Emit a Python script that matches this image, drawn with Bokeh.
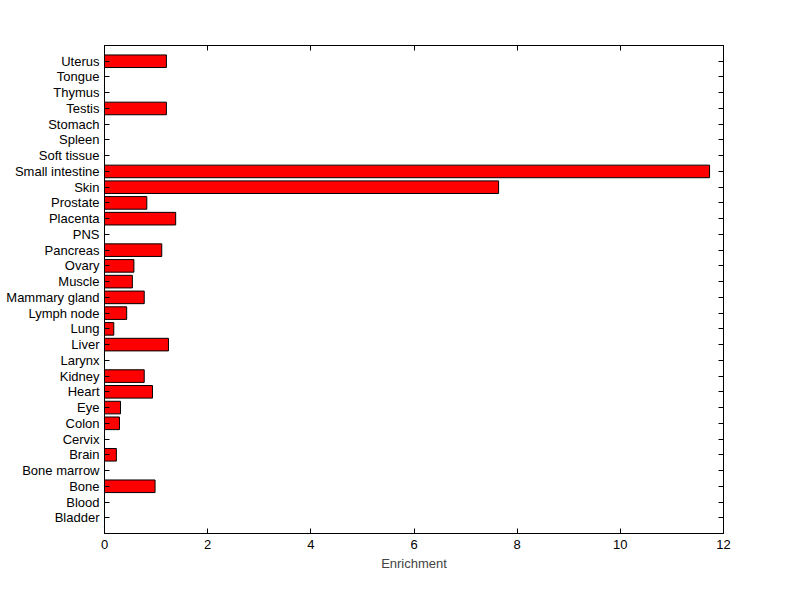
from bokeh.plotting import figure
from bokeh.models import Range1d, FixedTicker, LinearAxis
from bokeh.embed import file_html
from bokeh.resources import INLINE

categories = ["Bladder", "Blood", "Bone", "Bone marrow", "Brain", "Cervix", "Colon", "Eye",
              "Heart", "Kidney", "Larynx", "Liver", "Lung", "Lymph node", "Mammary gland",
              "Muscle", "Ovary", "Pancreas", "PNS", "Placenta", "Prostate", "Skin",
              "Small intestine", "Soft tissue", "Spleen", "Stomach", "Testis", "Thymus",
              "Tongue", "Uterus"]
enrichment = [0, 0, 0.98, 0, 0.23, 0, 0.29, 0.31,
              0.93, 0.77, 0, 1.24, 0.18, 0.43, 0.77,
              0.54, 0.57, 1.11, 0, 1.38, 0.82, 7.64,
              11.73, 0, 0, 0, 1.20, 0, 0, 1.20]
x_ticks = [0, 2, 4, 6, 8, 10, 12]

positions = list(range(1, len(categories) + 1))

FONT = "Liberation Sans"

p = figure(width=799, height=597, output_backend="svg", toolbar_location=None,
           x_range=Range1d(0, 12), y_range=Range1d(0, len(categories) + 1),
           frame_width=619, frame_height=488,
           min_border_left=104, min_border_top=45, min_border_right=76, min_border_bottom=64)
p.background_fill_color = "white"
p.border_fill_color = "white"
p.outline_line_color = "black"
p.outline_line_width = 1
p.xgrid.visible = False
p.ygrid.visible = False

p.hbar(y=positions, right=enrichment, left=0, height=0.8,
       fill_color="#ff0000", line_color="black", line_width=1)

def style_axis(ax, ticks, labels=True):
    ax.axis_line_color = "black"
    ax.major_tick_line_color = "black"
    ax.major_tick_in = 5
    ax.major_tick_out = 0
    ax.minor_tick_line_color = None
    ax.major_label_text_font = FONT
    ax.major_label_text_font_size = "13px"
    ax.major_label_text_color = "black"
    if not labels:
        ax.major_label_overrides = {t: "" for t in ticks}

xa = p.xaxis[0]
xa.ticker = FixedTicker(ticks=x_ticks)
style_axis(xa, x_ticks)
xa.major_label_standoff = 6
xa.axis_label = "Enrichment"
xa.axis_label_text_font = FONT
xa.axis_label_text_font_size = "13px"
xa.axis_label_text_font_style = "normal"
xa.axis_label_standoff = 4

ya = p.yaxis[0]
ya.ticker = FixedTicker(ticks=positions)
ya.major_label_overrides = {i: c for i, c in zip(positions, categories)}
style_axis(ya, positions)
ya.major_label_standoff = 5

ra = LinearAxis(ticker=FixedTicker(ticks=positions))
style_axis(ra, positions, labels=False)
p.add_layout(ra, "right")

ta = LinearAxis(ticker=FixedTicker(ticks=x_ticks))
style_axis(ta, x_ticks, labels=False)
p.add_layout(ta, "above")

open("out.html", "w").write(file_html(p, INLINE))
